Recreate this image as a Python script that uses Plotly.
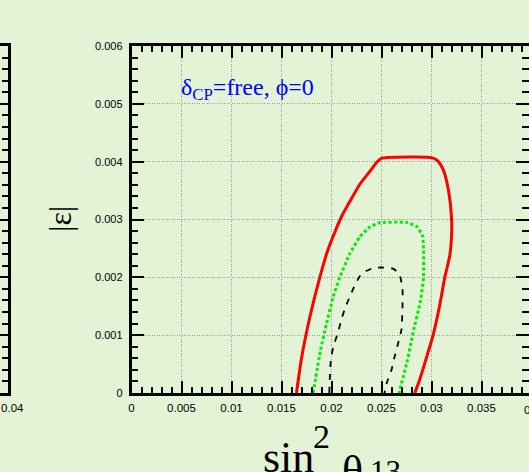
import plotly.graph_objects as go

# ---- data ----
red_x = [0.0165, 0.0170, 0.01783, 0.01883, 0.01963, 0.02033, 0.02103, 0.02183, 0.02283, 0.02383, 0.02453, 0.02503, 0.02553,
         0.0300, 0.0306, 0.0312, 0.0317, 0.0320, 0.0320, 0.03185, 0.0316, 0.03133, 0.0308, 0.03016, 0.0293, 0.0288, 0.02833]
red_y = [0.0, 0.0006, 0.00131, 0.002, 0.00247, 0.00278, 0.00306, 0.00331, 0.00361, 0.00383, 0.00399, 0.00406, 0.00407,
         0.00407, 0.00402, 0.00385, 0.0035, 0.00304, 0.0027, 0.0024, 0.0022, 0.002, 0.0015, 0.001, 0.0005, 0.00022, 0.0]

green_x = [0.01816, 0.0189, 0.0195, 0.02016, 0.02083, 0.02183, 0.02283, 0.02383, 0.02466, 0.0275, 0.0285, 0.0291,
           0.0292, 0.0292, 0.0289, 0.0281, 0.0275, 0.02675]
green_y = [0.0, 0.00074, 0.0012, 0.00166, 0.002, 0.00241, 0.0027, 0.00287, 0.00294, 0.00295, 0.00288, 0.00272,
           0.0025, 0.002, 0.0016, 0.001, 0.0005, 0.0]

black_x = [0.01978, 0.0199, 0.02016, 0.02066, 0.0210, 0.02143, 0.0219, 0.0224, 0.0230, 0.0240, 0.02483, 0.02616,
           0.0268, 0.0271, 0.0271, 0.0270, 0.02665, 0.0263, 0.0260, 0.0255, 0.0253]
black_y = [0.0, 0.0005, 0.00079, 0.00105, 0.00128, 0.0015, 0.00169, 0.00189, 0.00206, 0.00215, 0.00217, 0.00215,
           0.00205, 0.0018, 0.0015, 0.0011, 0.00085, 0.00062, 0.0004, 0.00016, 0.0]

x_tick_vals = [0, 0.005, 0.01, 0.015, 0.02, 0.025, 0.03, 0.035]
x_tick_text = ["0", "0.005", "0.01", "0.015", "0.02", "0.025", "0.03", "0.035"]
y_tick_vals = [0, 0.001, 0.002, 0.003, 0.004, 0.005, 0.006]
y_tick_text = ["0", "0.001", "0.002", "0.003", "0.004", "0.005", "0.006"]

W, H = 529, 472
BG = "rgb(227,243,214)"
XTICKFONT = dict(family="Liberation Sans, Arial, sans-serif", size=11.5, color="black")
YTICKFONT = dict(family="Liberation Sans, Arial, sans-serif", size=11, color="black")
SERIF = "Liberation Serif, Times New Roman, serif"

def px(v):
    return v / W

def py(v):
    return (H - v) / H

fig = go.Figure()
fig.add_trace(go.Scatter(x=red_x, y=red_y, mode="lines", line=dict(color="#ff0000", width=3, shape="spline", smoothing=0.6),
                         xaxis="x", yaxis="y", hoverinfo="skip"))
fig.add_trace(go.Scatter(x=green_x, y=green_y, mode="lines",
                         line=dict(color="#00ee00", width=3, dash="3px,2.5px", shape="spline", smoothing=0.5),
                         xaxis="x", yaxis="y", hoverinfo="skip"))
fig.add_trace(go.Scatter(x=black_x, y=black_y, mode="lines",
                         line=dict(color="black", width=1.8, dash="6px,7px", shape="spline", smoothing=0.5),
                         xaxis="x", yaxis="y", hoverinfo="skip"))
fig.add_trace(go.Scatter(x=[], y=[], xaxis="x2", yaxis="y2", hoverinfo="skip"))

ydom = [py(393), py(46)]
common = dict(showline=True, linecolor="black", linewidth=2.5, ticks="inside", tickcolor="black",
              tickwidth=2, zeroline=False, automargin=False)

fig.update_layout(
    width=W, height=H, autosize=False, showlegend=False,
    margin=dict(l=0, r=0, t=0, b=0, pad=0),
    paper_bgcolor=BG, plot_bgcolor=BG,
    xaxis=dict(domain=[px(131.5), 1], range=[0, (W - 131.5) / 10000], anchor="y",
               mirror="allticks", ticklen=12, tickmode="array", tickvals=x_tick_vals, ticktext=x_tick_text,
               showgrid=True, gridcolor="#999999", gridwidth=1, griddash="1px,1.5px",
               tickfont=XTICKFONT, ticklabelstandoff=2,
               minor=dict(tickmode="linear", tick0=0, dtick=0.001, ticklen=6, tickwidth=1.5, tickcolor="black",
                          ticks="inside", showgrid=False),
               **common),
    yaxis=dict(domain=ydom, range=[0, 0.006], anchor="x",
               mirror="allticks", ticklen=13, tickmode="array", tickvals=y_tick_vals, ticktext=y_tick_text,
               showgrid=True, gridcolor="#999999", gridwidth=1, griddash="1px,1.5px",
               tickfont=YTICKFONT, ticklabelstandoff=4,
               minor=dict(tickmode="linear", tick0=0, dtick=0.0002, ticklen=7, tickwidth=1.5, tickcolor="black",
                          ticks="inside", showgrid=False),
               **common),
    xaxis2=dict(domain=[0, px(8.3)], range=[0.04 - 0.00083, 0.04], anchor="y2", mirror=True,
                ticklen=12, tickmode="array", tickvals=[0.04], ticktext=["0.04"], showgrid=False,
                tickfont=XTICKFONT, ticklabelstandoff=2, ticklabelshift=4, **common),
    yaxis2=dict(domain=ydom, range=[0, 0.006], anchor="x2", side="right", mirror=False,
                ticklen=13, showticklabels=False, showgrid=False, tickmode="linear", tick0=0, dtick=0.001,
                minor=dict(tickmode="linear", tick0=0, dtick=0.0002, ticklen=7, tickwidth=1.5, tickcolor="black",
                           ticks="inside", showgrid=False),
                **common),
)

def text(t, x, y, size, color="black", xanchor="left", yanchor="top", angle=0, family=SERIF):
    fig.add_annotation(text=t, xref="paper", yref="paper", x=px(x), y=py(y), xanchor=xanchor, yanchor=yanchor,
                       textangle=angle, showarrow=False, borderpad=0,
                       font=dict(family=family, size=size, color=color))

text("δ<sub>CP</sub>=free, ϕ=0", 180, 89, 24, color="#0000ff", yanchor="middle")
text("|ε|", 60, 219, 32, xanchor="center", yanchor="middle", angle=-90)
# x-axis title sin^2 θ13 (pieces placed as in the reference)
text("sin", 262, 432, 44)
text("2", 312, 417, 34)
text("θ", 341, 446, 44)
text("13", 369, 453, 31)
# subscript of the panel above's title, only its lowest pixels show at the top edge
text("13", 369, 453 - 484.5, 31)
# the "0.04" label of the right frame, cut by the edge
text("0.04", 535, 409.5, 11.5, xanchor="center", yanchor="middle", family=XTICKFONT["family"])

fig.write_html("out.html")
